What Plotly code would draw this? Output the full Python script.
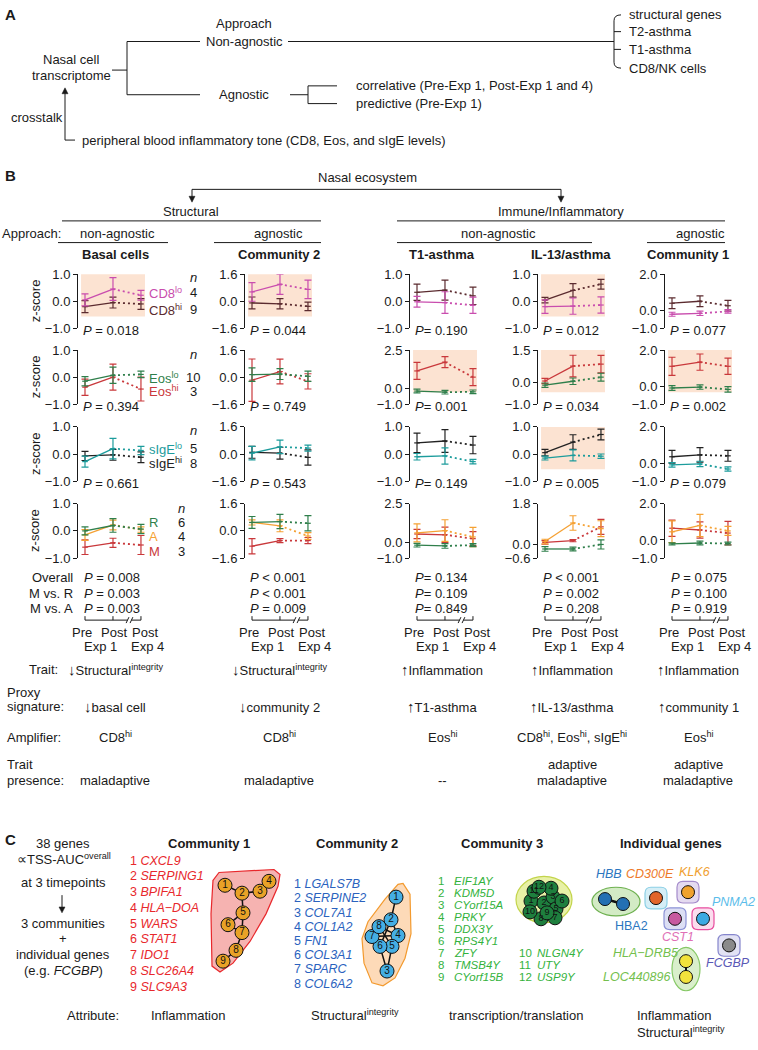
import plotly.graph_objects as go

W, H = 758, 1050
FONT = "Liberation Sans, Arial, Helvetica, sans-serif"
TXT = "#1a1a1a"
MAGENTA = "#C94DAE"
BROWN = "#5B2B2F"
GREEN = "#2F7F4B"
RED = "#C9383B"
TEAL = "#1C9C9C"
BLACK = "#222222"
ORANGE = "#F5A133"
HIGHLIGHT = "#FCE3D2"

# ---------------- data (panel B) ----------------
times = [0, 1, 2]  # Pre-Exp 1, Post-Exp 1, Post-Exp 4
col_titles = ["Basal cells", "Community 2", "T1-asthma", "IL-13/asthma", "Community 1"]

cd8lo_mean = [[0.05, 0.45, 0.22], [0.55, 1.0, 0.7], [-0.02, -0.05, -0.15], [-0.2, -0.18, -0.14], [-0.22, -0.17, -0.06]]
cd8lo_err = [[0.22, 0.42, 0.18], [0.55, 0.6, 0.55], [0.2, 0.4, 0.3], [0.25, 0.3, 0.3], [0.11, 0.12, 0.1]]
cd8hi_mean = [[-0.2, -0.05, -0.1], [-0.1, -0.15, -0.3], [0.33, 0.41, 0.2], [0.04, 0.4, 0.63], [0.39, 0.5, 0.25]]
cd8hi_err = [[0.22, 0.2, 0.2], [0.35, 0.3, 0.25], [0.3, 0.37, 0.32], [0.1, 0.25, 0.18], [0.3, 0.3, 0.3]]

eoslo_mean = [[-0.15, 0.07, 0.1], [0.15, 0.18, 0.05], [-0.15, -0.22, -0.2], [-0.12, 0.06, 0.25], [-0.1, -0.05, -0.18]]
eoslo_err = [[0.17, 0.3, 0.12], [0.4, 0.32, 0.3], [0.12, 0.12, 0.12], [0.1, 0.15, 0.18], [0.13, 0.12, 0.15]]
eoshi_mean = [[-0.37, 0.0, -0.44], [-0.18, 0.33, -0.25], [1.15, 1.72, 0.75], [0.07, 0.76, 0.85], [1.1, 1.33, 1.1]]
eoshi_err = [[0.3, 0.48, 0.44], [1.25, 0.73, 0.45], [0.55, 0.35, 0.55], [0.12, 0.5, 0.4], [0.5, 0.45, 0.45]]

sigelo_mean = [[-0.28, 0.2, 0.13], [0.05, 0.42, 0.35], [-0.1, -0.07, -0.28], [-0.15, -0.05, -0.08], [-0.1, -0.05, -0.33]]
sigelo_err = [[0.2, 0.38, 0.15], [0.4, 0.4, 0.18], [0.12, 0.3, 0.08], [0.07, 0.2, 0.08], [0.12, 0.15, 0.12]]
sigehi_mean = [[-0.07, -0.03, -0.12], [0.1, 0.05, -0.2], [0.41, 0.48, 0.33], [0.05, 0.44, 0.72], [0.35, 0.45, 0.4]]
sigehi_err = [[0.17, 0.2, 0.2], [0.35, 0.35, 0.45], [0.36, 0.42, 0.32], [0.12, 0.27, 0.2], [0.35, 0.4, 0.3]]

r_mean = [[0.0, 0.2, 0.07], [0.5, 0.55, 0.45], [-0.17, -0.22, -0.17], [-0.2, -0.2, 0.0], [-0.22, -0.17, -0.2]]
r_err = [[0.15, 0.25, 0.17], [0.35, 0.42, 0.45], [0.12, 0.15, 0.1], [0.1, 0.08, 0.2], [0.06, 0.1, 0.08]]
a_mean = [[-0.15, 0.22, 0.05], [0.5, 0.3, -0.3], [0.62, 0.77, 0.36], [0.13, 0.95, 0.7], [0.45, 0.8, 0.5]]
a_err = [[0.2, 0.18, 0.1], [0.15, 0.35, 0.2], [0.58, 0.7, 0.62], [0.1, 0.32, 0.35], [0.6, 0.62, 0.25]]
m_mean = [[-0.6, -0.44, -0.52], [-0.9, -0.57, -0.57], [0.55, 0.5, 0.25], [0.09, 0.17, 0.78], [0.65, 0.55, 0.38]]
m_err = [[0.27, 0.17, 0.35], [0.45, 0.12, 0.18], [0.3, 0.5, 0.45], [0.08, 0.05, 0.33], [0.45, 0.45, 0.65]]

y_ranges = [
    [(-1, 1), (-1.6, 1.6), (-1, 1), (-1, 1), (-1, 2)],
    [(-1, 1), (-1.6, 1.6), (-1, 2.5), (-1, 1.5), (-1, 2)],
    [(-1, 1), (-1.6, 1.6), (-1, 1), (-1, 1), (-1, 2)],
    [(-1, 1), (-1.6, 1.6), (-1, 2.5), (-0.6, 1.8), (-1, 2)],
]
highlighted = [[1, 1, 0, 1, 0], [0, 0, 1, 1, 1], [0, 0, 0, 1, 0], [0, 0, 0, 0, 0]]

p_rows = [["0.018", "0.044", "0.190", "0.012", "0.077"],
          ["0.394", "0.749", "0.001", "0.034", "0.002"],
          ["0.661", "0.543", "0.149", "0.005", "0.079"]]
p_overall = ["= 0.008", "< 0.001", "= 0.134", "< 0.001", "= 0.075"]
p_m_vs_r = ["= 0.003", "< 0.001", "= 0.109", "= 0.002", "= 0.100"]
p_m_vs_a = ["= 0.003", "= 0.009", "= 0.849", "= 0.208", "= 0.919"]

legend_labels = [[("CD8<sup>lo</sup>", "4", MAGENTA), ("CD8<sup>hi</sup>", "9", BROWN)],
                 [("Eos<sup>lo</sup>", "10", GREEN), ("Eos<sup>hi</sup>", "3", RED)],
                 [("sIgE<sup>lo</sup>", "5", TEAL), ("sIgE<sup>hi</sup>", "8", BLACK)],
                 [("R", "6", GREEN), ("A", "4", ORANGE), ("M", "3", RED)]]

DN = "<span style='font-size:15px'>↓</span>"
UP = "<span style='font-size:15px'>↑</span>"
trait_txt = [DN + "Structural<sup>integrity</sup>", DN + "Structural<sup>integrity</sup>",
             UP + "Inflammation", UP + "Inflammation", UP + "Inflammation"]
proxy_txt = [DN + "basal cell", DN + "community 2", UP + "T1-asthma", UP + "IL-13/asthma", UP + "community 1"]
amp_txt = ["CD8<sup>hi</sup>", "CD8<sup>hi</sup>", "Eos<sup>hi</sup>",
           "CD8<sup>hi</sup>, Eos<sup>hi</sup>, sIgE<sup>hi</sup>", "Eos<sup>hi</sup>"]
presence_txt = [["maladaptive"], ["maladaptive"], ["--"], ["adaptive", "maladaptive"], ["adaptive", "maladaptive"]]

# ---------------- data (panel C) ----------------
comm1_genes = ["CXCL9", "SERPING1", "BPIFA1", "HLA−DOA", "WARS", "STAT1", "IDO1", "SLC26A4", "SLC9A3"]
comm2_genes = ["LGALS7B", "SERPINE2", "COL7A1", "COL1A2", "FN1", "COL3A1", "SPARC", "COL6A2"]
comm3_genes = ["EIF1AY", "KDM5D", "CYorf15A", "PRKY", "DDX3Y", "RPS4Y1", "ZFY", "TMSB4Y", "CYorf15B",
               "NLGN4Y", "UTY", "USP9Y"]
c1_x = [225, 242, 260, 269, 243, 228, 242, 236, 223]
c1_y = [891, 899, 897, 887, 919, 931, 939, 957, 968]
c1_edges = [(1, 2), (2, 3), (3, 4), (2, 5), (5, 6), (5, 7), (6, 7), (7, 8), (8, 9)]
c2_x = [396, 391, 387, 398, 392, 380, 372, 379]
c2_y = [903, 926, 978, 942, 953, 953, 943, 933]
c2_edges = [(1, 2), (2, 8), (2, 4), (8, 7), (8, 4), (7, 6), (6, 5), (5, 4), (8, 5), (2, 6), (7, 4), (5, 3), (6, 3)]
c3_x = [531, 544, 553, 551, 556, 562, 555, 541, 547, 530, 534, 539]
c3_y = [907, 909, 903, 894, 915, 907, 924, 925, 919, 918, 897, 893]

# ---------------- build ----------------
fig = go.Figure()
shapes, annotations = [], []


def T(x, y, s, size=13, xa="center", color=TXT, angle=0, xref="x", yref="y", ya="middle"):
    annotations.append(dict(x=x, y=y, xref=xref, yref=yref, text=s, showarrow=False,
                            xanchor=xa, yanchor=ya, textangle=angle,
                            font=dict(size=size, color=color, family=FONT)))


def L(x0, y0, x1, y1, color=TXT, width=1, xref="x", yref="y"):
    shapes.append(dict(type="line", x0=x0, y0=y0, x1=x1, y1=y1, xref=xref, yref=yref,
                       line=dict(color=color, width=width)))


def ARROW(x0, y0, x1, y1):
    # line plus a small filled arrowhead pointing from (x0,y0) to (x1,y1) (vertical arrows only)
    d = 1 if y1 > y0 else -1
    L(x0, y0, x1, y1 - d * 4)
    shapes.append(dict(type="path", xref="x", yref="y", fillcolor=TXT, line=dict(color=TXT, width=0.5),
                       path=f"M {x1-3},{y1-d*6} L {x1+3},{y1-d*6} L {x1},{y1} Z"))


def PATH(pts, fill, line, width=1.2):
    p = "M " + " L ".join(f"{x},{y}" for x, y in pts) + " Z"
    shapes.append(dict(type="path", path=p, xref="x", yref="y", fillcolor=fill,
                       line=dict(color=line, width=width), layer="below"))


def RBOX(cx, cy, half, r, fill, line):
    x0, x1, y0, y1 = cx - half, cx + half, cy - half, cy + half
    p = (f"M {x0+r},{y0} L {x1-r},{y0} Q {x1},{y0} {x1},{y0+r} L {x1},{y1-r} Q {x1},{y1} {x1-r},{y1} "
         f"L {x0+r},{y1} Q {x0},{y1} {x0},{y1-r} L {x0},{y0+r} Q {x0},{y0} {x0+r},{y0} Z")
    shapes.append(dict(type="path", path=p, xref="x", yref="y", fillcolor=fill,
                       line=dict(color=line, width=1.2), layer="below"))


def ELL(x0, y0, x1, y1, fill, line):
    shapes.append(dict(type="circle", x0=x0, y0=y0, x1=x1, y1=y1, xref="x", yref="y",
                       fillcolor=fill, line=dict(color=line, width=1.2), layer="below"))


# page overlay axis (pixel coordinates)
fig.add_trace(go.Scatter(x=[0], y=[0], mode="markers", marker=dict(size=1, opacity=0),
                         xaxis="x", yaxis="y", hoverinfo="skip", showlegend=False))
layout_axes = dict(
    xaxis=dict(domain=[0, 1], range=[0, W], visible=False, fixedrange=True),
    yaxis=dict(domain=[0, 1], range=[H, 0], visible=False, fixedrange=True),
)

# ---------- Panel A ----------
T(3, 8, "<b>A</b>", size=15, xa="left")
T(244, 17, "Approach")
T(244, 35, "Non-agnostic")
T(71, 53, "Nasal cell")
T(71, 69, "transcriptome")
L(112, 64, 127, 64)
L(127, 35, 127, 89)
L(127, 35, 200, 35)
L(127, 89, 200, 89)
L(288, 35, 614, 35)
shapes.append(dict(type="path", xref="x", yref="y", line=dict(color=TXT, width=1),
                   path="M 621,8 Q 614,8 614,14 L 614,56 Q 614,62 621,62"))
for yy in (25, 43):
    L(614, yy, 621, yy)
for yy, s in zip((8, 25, 43, 62), ("structural genes", "T2-asthma", "T1-asthma", "CD8/NK cells")):
    T(627, yy, s, xa="left")
T(244, 89, "Agnostic")
L(290, 89, 308, 89)
L(308, 80, 308, 98)
L(308, 80, 337, 80)
L(308, 98, 337, 98)
T(354, 80, "correlative (Pre-Exp 1, Post-Exp 1 and 4)", xa="left")
T(354, 98, "predictive (Pre-Exp 1)", xa="left")
T(37, 112, "crosstalk")
ARROW(65, 135, 65, 82)
L(65, 135, 75, 135)
T(80, 135, "peripheral blood inflammatory tone (CD8, Eos, and sIgE levels)", xa="left")

# ---------- Panel B headers ----------
T(3, 171, "<b>B</b>", size=15, xa="left")
T(367, 173, "Nasal ecosystem")
L(192, 185, 561, 185)
ARROW(192, 185, 192, 198)
ARROW(561, 185, 561, 198)
T(191, 207, "Structural")
L(62, 217, 321, 217)
T(561, 207, "Immune/Inflammatory")
L(397, 217, 725, 217)
T(0, 230, "Approach:", xa="left")
for xx, s in zip((117, 278, 498, 700), ("non-agnostic", "agnostic", "non-agnostic", "agnostic")):
    T(xx, 230, s)
for x0, x1 in ((58, 168), (214, 321), (397, 592), (647, 725)):
    L(x0, 239, x1, 239)
title_x = [115, 279, 442, 571, 688]
for xx, s in zip(title_x, col_titles):
    T(xx, 251, f"<b>{s}</b>", size=13)

# ---------- Panel B charts ----------
axis_x = [78, 245, 410, 538, 665]
row_top = [271, 348, 426, 504]
CH_W, CH_H = 68, 55
X_LO, X_HI = -0.25, 2.18


def px(c, t):
    return axis_x[c] + (t - X_LO) / (X_HI - X_LO) * CH_W


row_series = [
    [(cd8hi_mean, cd8hi_err, BROWN), (cd8lo_mean, cd8lo_err, MAGENTA)],
    [(eoshi_mean, eoshi_err, RED), (eoslo_mean, eoslo_err, GREEN)],
    [(sigehi_mean, sigehi_err, BLACK), (sigelo_mean, sigelo_err, TEAL)],
    [(m_mean, m_err, RED), (a_mean, a_err, ORANGE), (r_mean, r_err, GREEN)],
]


def fmt(v):
    return f"{v:.1f}".replace("-", "−")


for r in range(4):
    for c in range(5):
        k = 2 + r * 5 + c
        xa, ya = f"x{k}", f"y{k}"
        lo, hi = y_ranges[r][c]
        x0 = axis_x[c]
        top = row_top[r]
        layout_axes[f"xaxis{k}"] = dict(domain=[x0 / W, (x0 + CH_W) / W], range=[X_LO, X_HI],
                                        visible=False, fixedrange=True, anchor=ya)
        layout_axes[f"yaxis{k}"] = dict(domain=[1 - (top + CH_H) / H, 1 - top / H], range=[lo, hi],
                                        anchor=xa, showline=True, linecolor=TXT, linewidth=1,
                                        ticks="outside", ticklen=4, tickcolor=TXT, tickwidth=1,
                                        tickvals=[hi, 0, lo], ticktext=[fmt(hi), fmt(0), fmt(lo)],
                                        tickfont=dict(size=13, color=TXT, family=FONT),
                                        showgrid=False, zeroline=False, fixedrange=True)
        if highlighted[r][c]:
            shapes.append(dict(type="rect", xref=f"{xa} domain", yref=f"{ya} domain",
                               x0=0.045, x1=0.985, y0=0.22, y1=1.0, fillcolor=HIGHLIGHT,
                               line=dict(width=0), layer="below"))
        for mean, err, col in row_series[r]:
            mv, ev = mean[c], err[c]
            fig.add_trace(go.Scatter(x=times, y=mv, mode="markers", xaxis=xa, yaxis=ya,
                                     marker=dict(size=4, color=col, symbol="line-ew",
                                                 line=dict(width=1.2, color=col)),
                                     error_y=dict(type="data", array=ev, visible=True, color=col,
                                                  thickness=1.2, width=3.5),
                                     showlegend=False, hoverinfo="skip", cliponaxis=False))
            fig.add_trace(go.Scatter(x=times[:2], y=mv[:2], mode="lines", xaxis=xa, yaxis=ya,
                                     line=dict(color=col, width=1.3), showlegend=False,
                                     hoverinfo="skip"))
            fig.add_trace(go.Scatter(x=times[1:], y=mv[1:], mode="lines", xaxis=xa, yaxis=ya,
                                     line=dict(color=col, width=1.8, dash="2px,3px"),
                                     showlegend=False, hoverinfo="skip"))
        # P values rows 1-3
        if r < 3:
            pp = "<i>P</i>= " if c == 2 else "<i>P</i> = "
            T(x0 + 3, top + CH_H + 2, pp + p_rows[r][c], size=13, xa="left")
    T(35, row_top[r] + CH_H / 2, "z-score", size=13, angle=-90)

n_x = [193, 193, 193, 181]
n_y = [274, 353, 430, 509]
leg_y = [[290, 307], [376, 390], [448, 463], [523, 537, 552]]
for r in range(4):
    T(n_x[r], n_y[r], "<i>n</i>", size=13)
    for (lab, n, col), yy in zip(legend_labels[r], leg_y[r]):
        T(147, yy, lab, size=13, xa="left", color=col)
        T(n_x[r], yy, n, size=13)

# row-4 P-values
p_x = [82, 248, 413, 541, 669]
T(75, 579, "Overall", size=13, xa="right")
T(75, 595, "M vs. R", size=13, xa="right")
T(75, 610, "M vs. A", size=13, xa="right")
for c in range(5):
    pp = "<i>P</i>" if c == 2 else "<i>P</i> "
    for yy, vals in zip((579, 595, 610), (p_overall, p_m_vs_r, p_m_vs_a)):
        T(p_x[c], yy, pp + vals[c], size=13, xa="left")

# time axis bracket under each column (drawn in page pixels through the chart x scale)
for c in range(5):
    L(px(c, 0), 622, px(c, 2), 622)
    for t in times:
        L(px(c, t), 622, px(c, t), 618)
    L(px(c, 1.52), 622, px(c, 1.66), 622, color="white", width=3)
    L(px(c, 1.47), 625, px(c, 1.57), 619)
    L(px(c, 1.61), 625, px(c, 1.71), 619)
    T(px(c, -0.1), 635, "Pre", size=13)
    T(px(c, 1.05), 635, "Post", size=13)
    T(px(c, 2.15), 635, "Post", size=13)
    T(px(c, 0.55), 649, "Exp 1", size=13)
    T(px(c, 2.25), 649, "Exp 4", size=13)

# trait block
low_x = [115, 279, 442, 572, 698]
T(60, 672, "Trait:", size=13, xa="right")
T(5, 695, "Proxy", size=13, xa="left")
T(5, 710, "signature:", size=13, xa="left")
T(5, 741, "Amplifier:", size=13, xa="left")
T(5, 768, "Trait", size=13, xa="left")
T(5, 785, "presence:", size=13, xa="left")
for c in range(5):
    T(low_x[c], 672, trait_txt[c], size=13)
    T(low_x[c], 710, proxy_txt[c], size=13)
    T(low_x[c], 741, amp_txt[c], size=13)
    pres = presence_txt[c]
    if len(pres) == 1:
        T(low_x[c], 785, pres[0], size=13)
    else:
        T(low_x[c], 768, pres[0], size=13)
        T(low_x[c], 785, pres[1], size=13)

# ---------- Panel C ----------
C1 = "#E8282C"
C2 = "#2A62BE"
C3 = "#33B23C"
T(3, 845, "<b>C</b>", size=15, xa="left")
T(63, 849, "38 genes")
T(64, 864, "<span style='font-size:14px'>∝</span>TSS-AUC<sup>overall</sup>")
T(63, 888, "at 3 timepoints")
ARROW(62, 901, 62, 919)
T(63, 930, "3 communities")
T(63, 945, "+")
T(63, 961, "individual genes")
T(63, 977, "(e.g. <i>FCGBP</i>)")
T(209, 849, "<b>Community 1</b>", size=13)
T(357, 849, "<b>Community 2</b>", size=13)
T(502, 849, "<b>Community 3</b>", size=13)
T(671, 849, "<b>Individual genes</b>", size=13)

for i, g in enumerate(comm1_genes):
    T(128, 866 + 16 * i, f"{i+1} <i>{g}</i>", size=12.5, color=C1, xa="left")
for i, g in enumerate(comm2_genes):
    T(292, 890 + 14.4 * i, f"{i+1} <i>{g}</i>", size=12.5, color=C2, xa="left")
for i, g in enumerate(comm3_genes):
    if i < 9:
        T(441, 887 + 12.1 * i, f"{i+1}", size=11.5, color=C3)
        T(452, 887 + 12.1 * i, f"<i>{g}</i>", size=11.5, color=C3, xa="left")
    else:
        T(517, 887 + 12.1 * (i - 3), f"{i+1}", size=11.5, color=C3, xa="left")
        T(535, 887 + 12.1 * (i - 3), f"<i>{g}</i>", size=11.5, color=C3, xa="left")

# blobs
PATH([(213, 886), (219, 878), (274, 875), (280, 880), (278, 892), (266, 920), (250, 948),
      (233, 970), (220, 979), (212, 973), (211, 920)], "#F6B3B1", "#E8282C")
PATH([(403, 889), (410, 900), (411, 940), (405, 965), (395, 985), (383, 993), (372, 990),
      (364, 970), (362, 945), (368, 928), (385, 905), (398, 890)], "#FDDAB8", "#F39A2E")
ELL(516, 882, 572, 929, "#E8F1A6", "#C3D44B")
ELL(592, 893, 640, 922, "#D3EBC5", "#6DB04F")
ELL(672, 954, 700, 998, "#D9EFCB", "#86C866")
RBOX(656, 904, 11, 6, "#D5EEF6", "#8CCFE5")
RBOX(688, 898, 11, 6, "#E4DAF0", "#A48BCB")
RBOX(675, 925, 11, 6, "#DCDFF4", "#8B92D6")
RBOX(703, 925, 11, 6, "#FBDDEE", "#E84C9E")
RBOX(729, 952, 11, 6, "#E2E2F4", "#8585CC")


def edges_trace(xs, ys, edges, width=1.5):
    ex, ey = [], []
    for a, b in edges:
        ex += [xs[a - 1], xs[b - 1], None]
        ey += [ys[a - 1], ys[b - 1], None]
    fig.add_trace(go.Scatter(x=ex, y=ey, mode="lines", line=dict(color="#111", width=width),
                             xaxis="x", yaxis="y", showlegend=False, hoverinfo="skip"))


def nodes_trace(xs, ys, fill, labels=None, size=14, tsize=10):
    kw = {}
    if labels:
        kw = dict(mode="markers+text", text=labels, textposition="middle center",
                  textfont=dict(size=tsize, color="#111", family=FONT))
    else:
        kw = dict(mode="markers")
    fig.add_trace(go.Scatter(x=xs, y=ys,
                             marker=dict(size=size, color=fill, line=dict(color="#111", width=1)),
                             xaxis="x", yaxis="y", showlegend=False, hoverinfo="skip",
                             cliponaxis=False, **kw))


edges_trace(c1_x, c1_y, c1_edges)
nodes_trace(c1_x, c1_y, "#E9A227", [str(i + 1) for i in range(9)])
edges_trace(c2_x, c2_y, c2_edges)
nodes_trace(c2_x, c2_y, "#45AEE3", [str(i + 1) for i in range(8)])
nodes_trace(c3_x, c3_y, "#1E7F3E", [str(i + 1) for i in range(12)], size=14, tsize=9)
edges_trace([605, 623], [905, 910], [(1, 2)], width=2.5)
nodes_trace([605, 623], [905, 910], "#2470B3", size=13)
nodes_trace([656], [904], "#E2652A", size=13)
nodes_trace([688], [898], "#F0A22E", size=13)
nodes_trace([675], [925], "#C75AA0", size=13)
nodes_trace([703], [925], "#3CA9E2", size=13)
nodes_trace([729], [952], "#8A8A8A", size=13)
edges_trace([686, 686], [968, 984], [(1, 2)], width=2)
nodes_trace([686, 686], [968, 984], "#F2E33C", size=13)

T(609, 880, "<i>HBB</i>", size=12.5, color="#2B76C0")
T(650, 880, "<i>CD300E</i>", size=12.5, color="#EE7A2A")
T(694, 878, "<i>KLK6</i>", size=12.5, color="#F0A030")
T(757, 908, "<i>PNMA2</i>", size=12.5, color="#5BBDEA", xa="right")
T(631, 932, "HBA2", size=12.5, color="#2B76C0")
T(678, 943, "<i>CST1</i>", size=12.5, color="#E070B6")
T(728, 970, "<i>FCGBP</i>", size=12.5, color="#5A58B5")
T(645, 960, "<i>HLA−DRB5</i>", size=12.5, color="#74BF4E")
T(636, 984, "<i>LOC440896</i>", size=12.5, color="#74BF4E")

T(93, 1023, "Attribute:", size=13)
T(188, 1023, "Inflammation", size=13)
T(355, 1023, "Structural<sup>integrity</sup>", size=13)
T(516, 1023, "transcription/translation", size=13)
T(635, 1023, "Inflammation", size=13, xa="left")
T(635, 1040, "Structural<sup>integrity</sup>", size=13, xa="left")

fig.update_layout(
    width=W, height=H, margin=dict(l=0, r=0, t=0, b=0),
    paper_bgcolor="white", plot_bgcolor="rgba(0,0,0,0)",
    font=dict(family=FONT, size=13, color=TXT),
    showlegend=False, shapes=shapes, annotations=annotations,
    **layout_axes,
)
# remove the browser's default 8px page margin so the figure sits at the window's top-left
fig.write_html("out.html", config={"displayModeBar": False},
               post_script="document.body.style.margin='0px';")
